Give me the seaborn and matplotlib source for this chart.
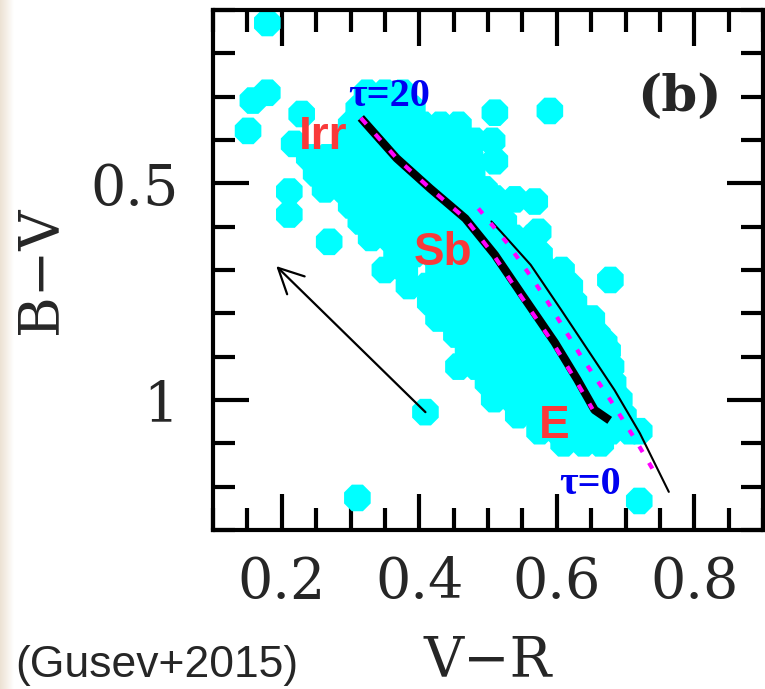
import matplotlib
matplotlib.use("Agg")
import matplotlib.pyplot as plt
from matplotlib.colors import LinearSegmentedColormap
from matplotlib.ticker import MultipleLocator, FuncFormatter
import numpy as np
import pandas as pd
import seaborn as sns

# ---------------------------------------------------------------------------
# Colour-colour data of star-forming regions (V-R, B-V)
# The dense band is listed row by row: one B-V value and the V-R values on it.
band_bv = [0.291, 0.328, 0.365, 0.402, 0.440, 0.477, 0.514, 0.551, 0.588,
           0.626, 0.663, 0.700, 0.737, 0.774, 0.812, 0.849, 0.886, 0.923,
           0.960, 0.998, 1.035, 1.072, 1.100]
band_vr = [
    [0.324, 0.350, 0.376],
    [0.312, 0.338, 0.364, 0.390],
    [0.301, 0.327, 0.353, 0.379, 0.405, 0.431, 0.457],
    [0.298, 0.324, 0.350, 0.376, 0.402, 0.428, 0.454, 0.480, 0.506],
    [0.240, 0.266, 0.292, 0.318, 0.344, 0.370, 0.396, 0.422, 0.448, 0.474],
    [0.250, 0.276, 0.295, 0.321, 0.347, 0.373, 0.399, 0.425, 0.451, 0.477],
    [0.263, 0.289, 0.315, 0.341, 0.367, 0.393, 0.419, 0.445, 0.471, 0.495],
    [0.301, 0.327, 0.353, 0.379, 0.405, 0.431, 0.457, 0.483, 0.509],
    [0.315, 0.341, 0.367, 0.393, 0.419, 0.445, 0.471, 0.497, 0.523],
    [0.330, 0.356, 0.382, 0.408, 0.434, 0.460, 0.486, 0.512, 0.538, 0.564],
    [0.367, 0.393, 0.419, 0.445, 0.471, 0.497, 0.523, 0.549, 0.575],
    [0.350, 0.379, 0.428, 0.454, 0.480, 0.506, 0.532, 0.558, 0.584, 0.607],
    [0.385, 0.411, 0.437, 0.463, 0.489, 0.515, 0.541, 0.567, 0.593, 0.619],
    [0.416, 0.442, 0.468, 0.495, 0.521, 0.547, 0.573, 0.599, 0.625],
    [0.428, 0.454, 0.480, 0.506, 0.532, 0.558, 0.584, 0.610, 0.636, 0.651],
    [0.454, 0.480, 0.506, 0.532, 0.558, 0.584, 0.610, 0.636, 0.659],
    [0.471, 0.497, 0.523, 0.549, 0.575, 0.601, 0.627, 0.653, 0.674],
    [0.457, 0.483, 0.509, 0.535, 0.561, 0.587, 0.613, 0.639, 0.665, 0.679],
    [0.500, 0.526, 0.552, 0.578, 0.604, 0.630, 0.656, 0.682],
    [0.509, 0.535, 0.561, 0.587, 0.613, 0.639, 0.665, 0.691],
    [0.544, 0.570, 0.596, 0.622, 0.648, 0.674, 0.697],
    [0.575, 0.601, 0.627, 0.653, 0.679, 0.706, 0.720],
    [0.610, 0.639, 0.664],
]

# regions lying off the main band
sparse_vr = [0.179, 0.158, 0.179, 0.151, 0.218, 0.229, 0.211, 0.211, 0.269,
             0.409, 0.310, 0.678, 0.720, 0.510, 0.590, 0.510, 0.510, 0.539,
             0.568, 0.573, 0.669, 0.669]
sparse_bv = [0.130, 0.309, 0.291, 0.379, 0.409, 0.340, 0.519, 0.572, 0.635,
             1.028, 1.226, 0.723, 1.233, 0.337, 0.333, 0.449, 0.535, 0.537,
             0.542, 0.612, 0.867, 0.907]

# model tracks
track_vr = [0.315, 0.367, 0.416, 0.467, 0.510, 0.549, 0.597, 0.630, 0.655, 0.677]
track_bv = [0.349, 0.442, 0.512, 0.581, 0.665, 0.756, 0.867, 0.953, 1.023, 1.047]

dotted_a_vr = [0.315, 0.367, 0.416, 0.467, 0.508, 0.546, 0.594, 0.627, 0.652]
dotted_a_bv = [0.349, 0.442, 0.512, 0.581, 0.665, 0.756, 0.867, 0.953, 1.021]

dotted_b_vr = [0.486, 0.529, 0.565, 0.587, 0.635, 0.678, 0.713, 0.746]
dotted_b_bv = [0.558, 0.640, 0.721, 0.774, 0.898, 1.000, 1.088, 1.177]

thin_vr = [0.505, 0.519, 0.562, 0.606, 0.645, 0.684, 0.721, 0.763]
thin_bv = [0.588, 0.612, 0.688, 0.791, 0.884, 0.977, 1.077, 1.212]

# extinction vector
ext_tail = (0.409, 1.028)
ext_head = (0.192, 0.691)

# ---------------------------------------------------------------------------
rows = []
for bv, vrs in zip(band_bv, band_vr):
    for vr in vrs:
        rows.append((vr, bv))
rows += list(zip(sparse_vr, sparse_bv))
regions = pd.DataFrame(rows, columns=["V-R", "B-V"])

sns.set_style("ticks")
plt.rcParams["font.family"] = ["DejaVu Serif"]
plt.rcParams["axes.linewidth"] = 3.0
plt.rcParams["axes.edgecolor"] = "black"

fig = plt.figure(figsize=(7.65, 6.89), dpi=100)
fig.patch.set_facecolor("white")

# pale paper edge on the left
strip = fig.add_axes([0, 0, 14 / 765, 1], zorder=-5)
edge_cmap = LinearSegmentedColormap.from_list("edge", ["#ECE2D3", "#F6F0E8", "#FFFFFF"])
strip.imshow(np.linspace(0, 1, 64)[None, :], aspect="auto", cmap=edge_cmap,
             extent=[0, 1, 0, 1])
strip.axis("off")

ax = fig.add_axes([213 / 765, 1 - 530 / 689, 550 / 765, 520 / 689])

sns.scatterplot(data=regions, x="V-R", y="B-V", marker="8", s=430,
                color="#00FFFF", edgecolor="none", linewidth=0,
                legend=False, ax=ax, zorder=1)

sns.lineplot(x=track_vr, y=track_bv, sort=False, estimator=None,
             color="black", lw=6, solid_capstyle="butt", ax=ax, zorder=3)
sns.lineplot(x=thin_vr, y=thin_bv, sort=False, estimator=None,
             color="black", lw=1.5, ax=ax, zorder=3)
sns.lineplot(x=dotted_a_vr, y=dotted_a_bv, sort=False, estimator=None,
             color="#FF00FF", lw=3, linestyle=(0, (2, 3.2)), ax=ax, zorder=4)
sns.lineplot(x=dotted_b_vr, y=dotted_b_bv, sort=False, estimator=None,
             color="#FF00FF", lw=3, linestyle=(0, (1.6, 3.0)), ax=ax, zorder=4)

ax.annotate("", xy=ext_head, xytext=ext_tail,
            arrowprops=dict(arrowstyle="->,head_length=0.9,head_width=0.45",
                            color="black", lw=1.6, mutation_scale=20,
                            shrinkA=0, shrinkB=0), zorder=5)

# labels on the tracks
tau_kw = dict(family=["Liberation Serif", "DejaVu Serif"], weight="bold",
              size=29, color="#0000F0", ha="center", va="baseline", zorder=6)
ax.text(0.356, 0.321, "τ=20", **tau_kw)
ax.text(0.648, 1.216, "τ=0", **tau_kw)

type_kw = dict(family=["Liberation Sans", "DejaVu Sans"], weight="bold",
               size=33, color="#F93A3A", ha="center", va="baseline", zorder=6)
ax.text(0.260, 0.421, "Irr", **type_kw)
ax.text(0.434, 0.688, "Sb", **type_kw)
ax.text(0.597, 1.088, "E", **type_kw)

ax.text(0.778, 0.333, "(b)", size=37, weight="bold", ha="center",
        va="baseline", zorder=6)

# axes
ax.set_xlim(0.1, 0.9)
ax.set_ylim(1.3, 0.1)
ax.xaxis.set_major_locator(MultipleLocator(0.2))
ax.xaxis.set_minor_locator(MultipleLocator(0.05))
ax.yaxis.set_major_locator(MultipleLocator(0.5))
ax.yaxis.set_minor_locator(MultipleLocator(0.1))
fmt = FuncFormatter(lambda v, p: f"{v:g}")
ax.xaxis.set_major_formatter(fmt)
ax.yaxis.set_major_formatter(fmt)

ax.tick_params(which="both", direction="in", top=True, right=True,
               width=3, color="black")
ax.tick_params(which="major", length=26, labelsize=40)
ax.tick_params(which="minor", length=16)
ax.tick_params(axis="x", which="major", pad=18)
ax.tick_params(axis="y", which="major", pad=25)
for spine in ax.spines.values():
    spine.set_visible(True)
    spine.set_linewidth(3)

ax.set_xlabel("V\u2212R", size=40, va="baseline")
ax.xaxis.set_label_coords(0.5, (530 - 676) / 520)
ax.set_ylabel("B\u2212V", size=40, rotation=90, rotation_mode="anchor",
              ha="center", va="baseline")
ax.yaxis.set_label_coords((56 - 213) / 550, 0.5)

fig.text(15 / 765, 1 - 677 / 689, "(Gusev+2015)",
         family=["Liberation Sans", "DejaVu Sans"], size=32,
         ha="left", va="baseline")

fig.savefig("out.png", dpi=100, facecolor="white")
